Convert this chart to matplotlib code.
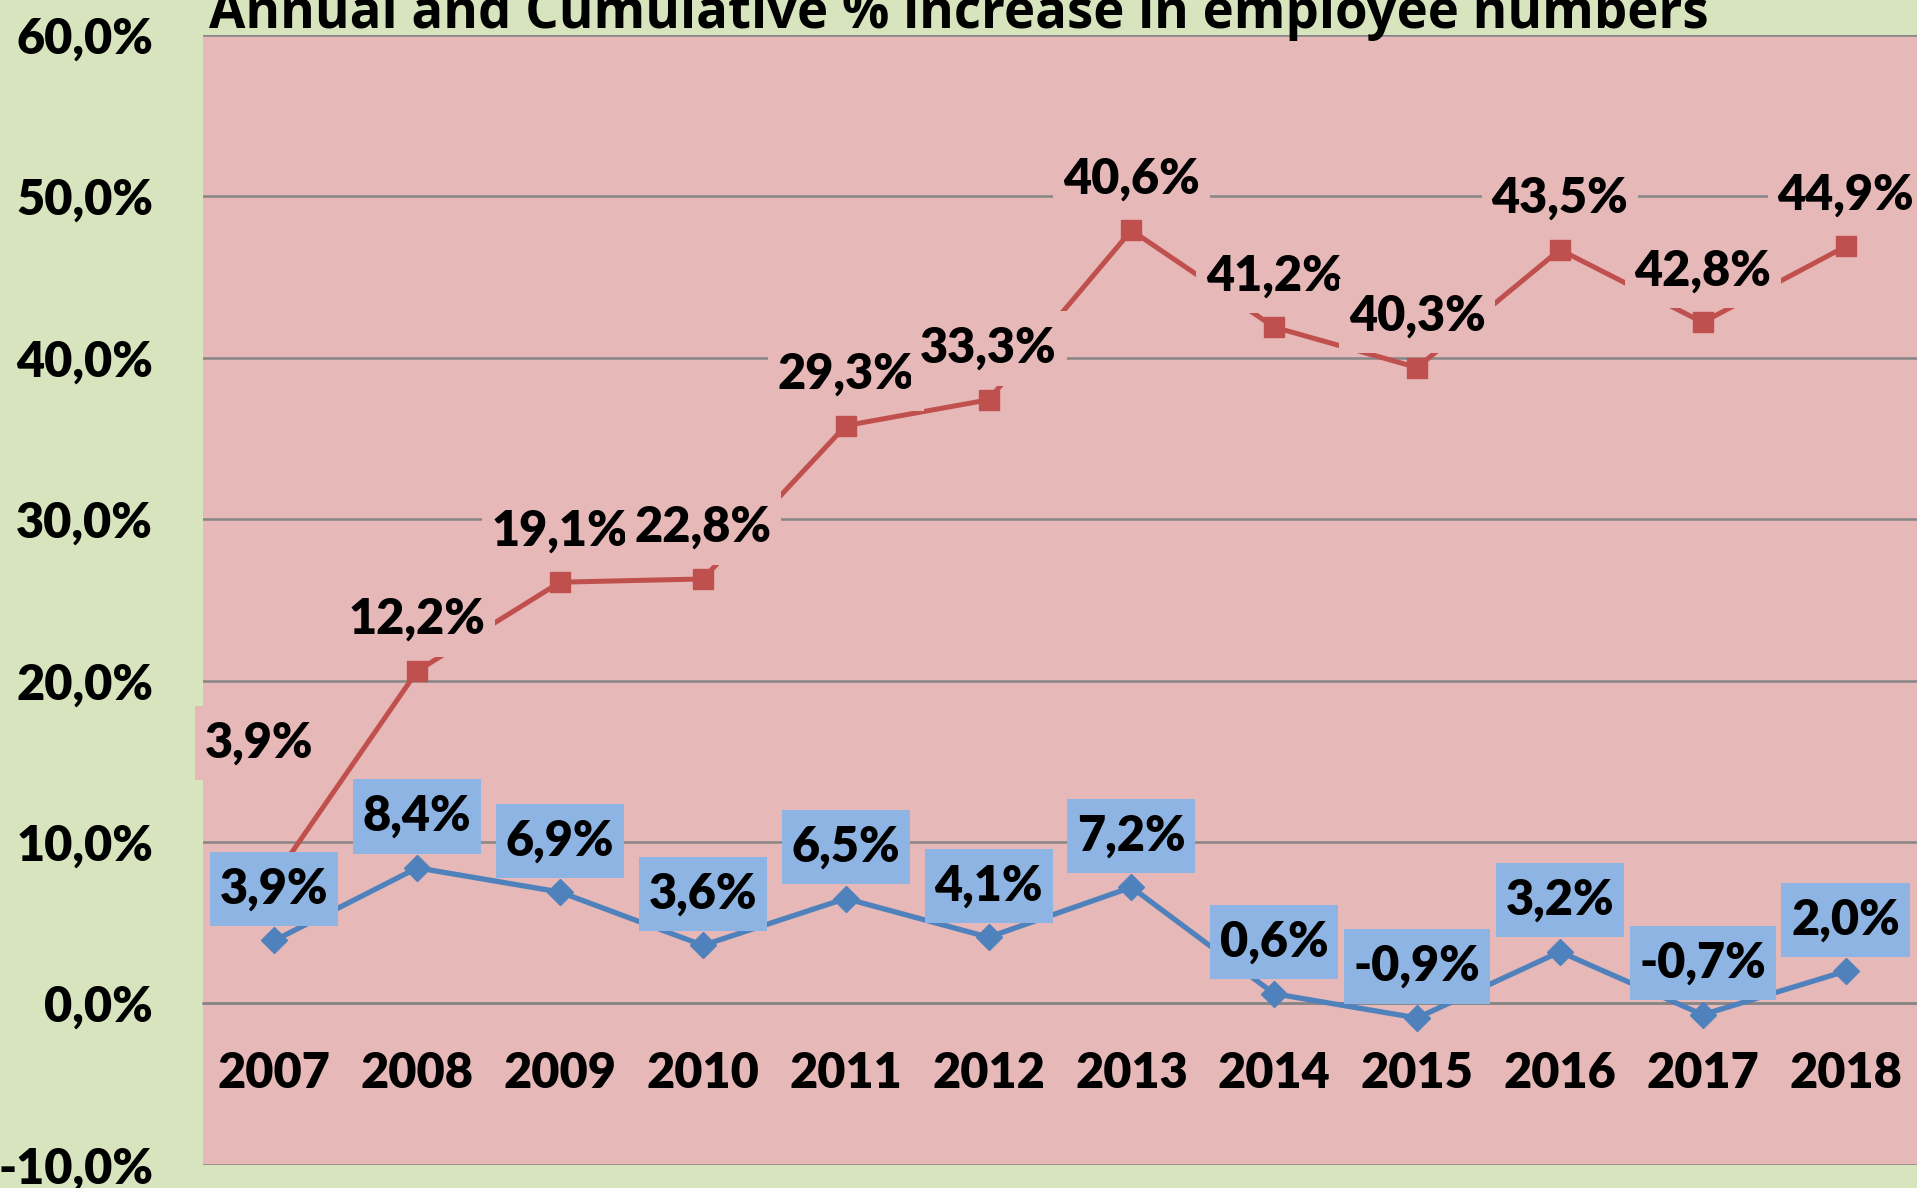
import matplotlib
matplotlib.use('Agg')
import matplotlib.pyplot as plt
from matplotlib.path import Path
from matplotlib.ticker import FuncFormatter

plt.rcParams['font.family'] = ['Lato', 'DejaVu Sans']

# values
years = ['2007', '2008', '2009', '2010', '2011', '2012',
         '2013', '2014', '2015', '2016', '2017', '2018']
annual = [3.9, 8.4, 6.9, 3.6, 6.5, 4.1, 7.2, 0.6, -0.9, 3.2, -0.7, 2.0]
cumulative = [7.8, 20.6, 26.1, 26.3, 35.8, 37.4, 47.9, 41.9, 39.4, 46.7, 42.2, 46.9]
cumulative_labels = ['3,9%', '12,2%', '19,1%', '22,8%', '29,3%', '33,3%',
                     '40,6%', '41,2%', '40,3%', '43,5%', '42,8%', '44,9%']
title = 'Annual and Cumulative % increase in employee numbers'

green_bg = '#D7E4BD'
pink_bg = '#E6B8B7'
red = '#C0504D'
blue = '#4F81BD'
blue_box = '#8DB4E2'
grid_col = '#868686'
fs = 35
wt = 'heavy'

def pct(v):
    return f'{v:.1f}%'.replace('.', ',')

def label_box(x0, y0, w, h, mutation_size):
    # Excel-ish label box: a bit more room above/below than at the sides
    px, py = 0.2 * mutation_size, 0.3 * mutation_size
    return Path([(x0 - px, y0 - py), (x0 + w + px, y0 - py), (x0 + w + px, y0 + h + py),
                 (x0 - px, y0 + h + py), (x0 - px, y0 - py)], closed=True)

fig = plt.figure(figsize=(19.17, 11.88), dpi=100, facecolor=green_bg)
ax = fig.add_axes([0.1059, 0.0195, 0.8941, 0.951])
ax.set_facecolor(pink_bg)

x = list(range(len(years)))
ax.plot(x, cumulative, color=red, lw=3.6, marker='s', ms=14, zorder=3)
ax.plot(x, annual, color=blue, lw=3.8, marker='D', ms=13, zorder=3)

for i, lab in enumerate(cumulative_labels):
    dx, dy = (0, 37)
    if i == 0:
        dx, dy = (-11, 97)   # first label was dragged up in the original
    ax.annotate(lab, (x[i], cumulative[i]), xytext=(dx, dy), textcoords='offset points',
                ha='center', va='center', fontsize=fs, fontweight=wt, zorder=5,
                bbox=dict(boxstyle=label_box, fc=pink_bg, ec='none'))
for i, v in enumerate(annual):
    ax.annotate(pct(v), (x[i], v), xytext=(0, 37), textcoords='offset points',
                ha='center', va='center', fontsize=fs, fontweight=wt, zorder=6,
                bbox=dict(boxstyle=label_box, fc=blue_box, ec='none'))

ax.set_xlim(-0.5, 11.5)
ax.set_ylim(-10, 60)
ax.set_yticks(range(-10, 61, 10))
ax.yaxis.set_major_formatter(FuncFormatter(lambda v, _: pct(v)))
ax.yaxis.grid(True, color=grid_col, lw=1.8)
ax.set_axisbelow(True)
for s in ['top', 'right', 'left']:
    ax.spines[s].set_visible(False)
ax.spines['bottom'].set_position(('data', 0))
ax.spines['bottom'].set_color(grid_col)
ax.spines['bottom'].set_linewidth(1.8)
ax.set_xticks(x)
ax.set_xticklabels(years, fontweight=wt)
ax.tick_params(axis='x', length=0, pad=34, labelsize=fs)
ax.tick_params(axis='y', length=0, pad=36, labelsize=fs)
plt.setp(ax.get_yticklabels(), fontweight=wt)

fig.text(0.5, 0.9765, title, ha='center', va='baseline', fontsize=38,
         fontweight='bold', family=['Open Sans', 'DejaVu Sans'])

fig.savefig('out.png', dpi=100, facecolor=green_bg)
